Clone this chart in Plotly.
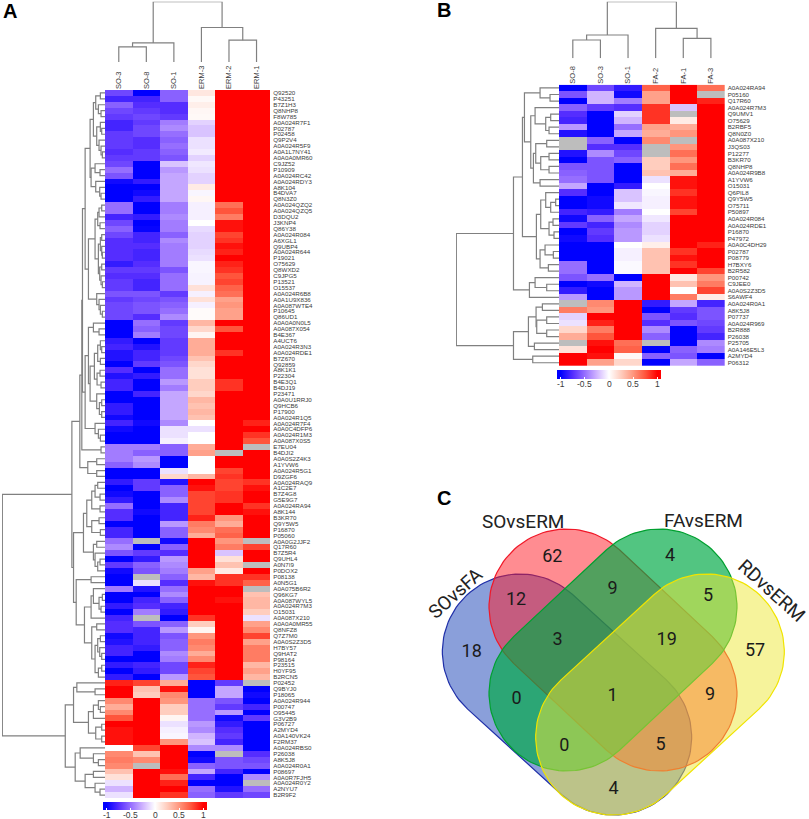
import numpy as np
import plotly.graph_objects as go

nan = float("nan")
W, H = 809, 819

# ---------- Panel A data ----------
a_cols = ["SO-3", "SO-8", "SO-1", "ERM-3", "ERM-2", "ERM-1"]
a_rows = ["Q92520","P43251","B7Z1H3","Q8NHP8","F8W785","A0A024R7F1","P02787","P02458","Q9P2V4","A0A024R5F9",
"A0A1L7NY41","A0A0A0MR60","C9JZ52","P10909","A0A024RC42","A0A024RDY3","A8K104","B4DVA7","Q8N3Z0","A0A024QZQ2",
"A0A024QZQ5","D3DQU2","J3KNP4","Q86Y38","A0A024R084","A6XGL1","Q9UBP4","A0A024R644","P19021","O75629",
"Q8WXD2","C9JPG5","P13521","O15537","A0A024R6B8","A0A1U9X836","A0A087WTE4","P10645","Q86UD1","A0A0A0N0L5",
"A0A087X054","B4E367","A4UCT6","A0A024R3N3","A0A024RDE1","B7Z670","Q92859","A8K1K1","P22304","B4E3Q1",
"B4DJ19","P23471","A0A0U1RRJ0","Q9HCB6","P17900","A0A024R1Q5","A0A024R7F4","A0A0C4DFP6","A0A024R1M3","A0A087X0S5",
"E7EU04","B4DJI2","A0A0S2Z4K3","A1YVW6","A0A024R5G1","D9ZGF6","A0A024RAQ9","A1C2E7","B7Z4G8","G5E9G7",
"A0A024RA94","A8K144","B3KR70","Q9Y5W5","P16870","P05060","A0A0G2JJF2","Q17R60","B7Z5R4","Q9UHL4",
"A0N7I9","P0DOX2","P08138","A0N5G1","A0A075B6R2","Q96KG7","A0A087WYL5","A0A024R7M3","O15031","A0A087X210",
"A0A0A0MR55","Q8NFZ8","Q7Z7M0","A0A0S2Z3D5","H7BY57","Q9HAT2","P98164","P23515","H0YF95","B2RCN5",
"P02452","Q9BYJ0","P18065","A0A024R944","P00747","O95445","G3V2B9","P06727","A2MYD4","A0A140VK24",
"F2RM37","A0A024RBS0","P26038","A8K5J8","A0A024R0A1","P08697","A0A0R7FJH5","A0A024R0Y2","A2NYU7","B2R9F2"]

a_so3 = [-.65,-.8,-.55,-.65,-.7,-.8,-.8,-.7,-.7,-.7,
 -.75,-.7,-.65,-.5,-.6,-.95,-1,-1,-1,-.5,
 -.5,-.8,-.65,-.55,-.65,-.75,-.75,-.75,-.75,-.85,
 -.7,-.75,-.7,-.7,-.6,-.7,-.65,-.65,-.65,-1,
 -1,-1,-.85,-.8,-.9,-.9,-1,-.75,-.9,-.8,
 -.8,-1,-1,-.85,-.85,-.95,-.8,-.95,-1,-1,
 -.45,-.45,-.45,-.55,-1,-1,-.85,-1,-.95,-.85,
 -.5,-.75,-.75,-1,-.8,-.8,-.5,-.4,-.6,-1,
 -.7,-.95,-1,-1,-.45,-1,-1,-.85,-1,-.8,
 -.75,-.75,-.95,-.9,-.8,-.8,-1,-.85,-1,-.85,
 .9,1,1,.55,.4,.55,.75,1,.95,.95,
 .95,0,.55,.6,.55,.3,.15,-.1,-.25,-.1]
a_so8 = [-1,-.8,-.75,-.7,-.65,-.7,-.65,-.65,-.75,-.75,
 -.7,-.7,-1,-1,-1,-.85,-1,-.95,-.85,-1,
 -1,-.85,-1,-.98,-.8,-.8,-.75,-.8,-.8,-.75,
 -.7,-.75,-.8,-.8,-.6,-.65,-.6,-.6,-.75,-.5,
 -.55,-.45,-1,-.9,-.8,-.8,-.7,-1,-.85,-1,
 -1,-.8,-1,-1,-1,-1,-.95,-1,-1,-1,
 -.45,-.55,-.35,-.4,-1,-1,-.7,-.7,-1,-1,
 -1,-.95,-1,-1,-1,-1,nan,-1,-.7,-.85,
 -.55,-.6,nan,-.1,-.9,-1,-.8,-.75,-.45,nan,
 -.6,-.8,-.8,-.8,-.85,-1,-1,-.8,-.85,-1,
 .8,.3,.25,1,1,1,1,1,1,1,
 1,.8,.3,.55,nan,1,1,1,1,1]
a_so1 = [-.55,-.55,-.75,-.75,-.7,-.45,-.4,-.5,-.55,-.5,
 -.55,-.6,-.2,-.35,-.3,-.3,-.3,-.3,-.3,-.45,
 -.45,-.4,-.45,-.45,-.55,-.4,-.45,-.45,-.45,-.45,
 -.6,-.5,-.5,-.5,-.7,-.6,-.55,-.5,-.4,-.7,
 -.65,-.65,-.7,-.7,-.7,-.65,-.6,-.5,-.5,-.35,
 -.45,-.3,-.3,-.3,-.3,-.3,-.4,-.1,-.1,-.05,
 -.55,-.55,-1,-1,-.1,.2,-.9,-.55,-.55,-.4,
 -.8,-.8,-.8,-.35,-.55,-.55,-.95,-.55,-.75,-.35,
 -.4,-.45,-.55,-.75,-.5,-.4,-.55,-.8,-.85,-1,
 -.55,-.35,-.6,-.55,-.55,-.4,-.45,-.65,-.65,-.35,
 .4,.95,.55,.5,.25,.25,.05,-.1,-.05,-.03,
 .5,1,1,1,1,.95,.65,.9,1,.85]
a_erm3 = [.12,.03,.08,.04,.03,-.15,-.2,-.2,-.1,-.1,
 -.07,-.15,-.08,-.1,-.15,-.15,.1,-.03,.04,-.05,
 -.05,-.05,0,-.12,-.15,-.15,-.15,-.12,-.1,-.03,
 -.03,-.04,-.04,.15,-.05,.15,-.05,.02,.02,.35,
 .2,.05,.4,.4,.4,.3,.2,.15,.15,.25,
 .25,.2,.35,.3,.35,.3,0,-.1,0,0,
 .4,.45,0,0,0,.35,1,.95,.8,.8,
 .8,.8,.9,.6,.55,.4,1,1,1,1,
 1,.45,.35,.95,1,1,1,1,1,.85,
 .25,.05,.5,.6,.55,.4,.55,.9,.8,.75,
 -1,-1,-1,-.5,-.5,-.5,-.5,-.35,-.4,-.25,
 -.2,-.4,-1,-.95,-.55,-.3,-.8,-1,-.5,-.55]
a_erm2 = [1,1,1,1,1,1,1,1,1,1,
 1,1,1,1,1,1,1,1,1,.65,
 .75,.6,.95,.95,.8,.85,.95,.9,1,.9,
 .85,.75,.8,.7,.65,.45,.5,.45,.45,1,
 .75,1,1,1,.85,1,1,1,1,.85,
 .85,1,1,1,1,1,1,1,1,1,
 1,nan,1,1,.8,.85,.8,.8,.85,.85,
 1,1,.5,.4,.65,.7,.5,.6,-.2,.15,
 .3,.1,.85,.85,1,1,.95,1,1,1,
 1,1,1,1,1,1,1,1,1,1,
 -.7,-.3,-.3,-.6,-.7,-.35,-.95,-.85,-.75,-.7,
 -.8,-.4,nan,-.6,-.6,-.8,-1,-1,-.9,-.7]
a_erm1 = [1,1,1,1,1,1,1,1,1,1,
 1,1,1,1,1,1,1,1,1,1,
 1,1,1,1,1,1,1,1,1,1,
 1,1,1,1,1,1,1,1,1,1,
 1,1,1,1,1,1,1,1,1,1,
 1,1,1,1,1,1,.9,1,.85,.75,
 nan,1,1,1,1,1,.85,.95,1,1,
 .85,.95,1,1,1,1,nan,.8,1,1,
 nan,1,.85,.7,nan,.3,.35,.35,.25,-.1,
 .45,.55,.8,.45,.6,.6,.6,.35,.45,.35,
 nan,-1,-.95,-1,-.8,-1,-.7,-1,-1,-1,
 -1,-1,-.75,-.65,-.6,-1,-.4,nan,-.5,-.65]

# ---------- Panel B data ----------
b_cols = ["SO-8", "SO-3", "SO-1", "FA-2", "FA-1", "FA-3"]
b_rows = ["A0A024RA94","P05160","Q17R60","A0A024R7M3","Q9UMV1","O75629","B2RBF5","Q8N0Z0","A0A087X210","J3QS03",
"P12277","B3KR70","Q8NHP8","A0A024R9B8","A1YVW6","O15031","Q6PIL8","Q9Y5W5","O75711","P50897",
"A0A024R084","A0A024RDE1","P16870","P47972","A0A0C4DH29","P02787","P08779","H7BXY6","B2R582","P00742",
"C9JEE0","A0A0S2Z3D5","S6AWF4","A0A024R0A1","A8K5J8","P07737","A0A024R969","B2R888","P26038","P25705",
"A0A146E5L3","A2MYD4","P06312"]
b_so8 = [-1,-.6,-1,-.55,-.75,-.8,-.35,-.9,nan,nan,-.9,-1,-.6,-.55,-.5,-.3,-.75,-1,-1,-.8,-.95,-.7,-1,-.95,-1,-1,-1,-.5,-.5,-.6,-1,-.85,-.35,nan,.6,-.15,-.1,.2,.4,nan,.15,1,1]
b_so3 = [-.65,-.25,-.25,-.7,-1,-1,-1,-1,-.55,-.75,-.4,-.6,-.6,-.6,-.6,-1,-1,-.95,-.95,-.85,-.55,-.8,-.7,-.75,-1,-1,-1,-1,-1,-.5,-.95,-1,-1,.55,.5,1,.9,.6,.75,.95,1,.95,.45]
b_so1 = [-.85,-.95,-.45,-.75,-.15,-.25,-.5,-.3,-1,-.75,-.65,-.55,-1,-1,-1,-.85,-.2,-.2,-.08,-.45,-.3,-.4,-.35,-.35,0,-.05,-.05,-.02,-.02,-1,-.25,-.35,-.35,1,1,1,1,1,1,.65,.7,.03,.2]
b_fa2 = [.7,.45,.45,.85,.85,.85,.45,.4,.55,nan,nan,.25,.25,.3,-.1,0,-.03,-.05,-.05,0,-.08,-.15,-.15,-.1,.08,.3,.3,.3,.3,1,1,1,1,-.85,-1,-.6,-.75,-.4,-.55,nan,-1,-.55,-1]
b_fa1 = [1,1,1,-.2,nan,.1,.4,.5,nan,.5,.65,.5,.65,.4,.95,.95,.85,.95,.95,.8,1,1,1,1,1,.85,.95,.85,1,.12,.3,0,.6,-.3,-.7,-.75,-.6,-1,-1,-1,-.55,-.6,-.3]
b_fa3 = [.65,nan,.9,1,1,1,1,1,1,1,1,1,1,1,1,1,1,1,1,1,1,1,1,1,.9,1,1,1,.8,.5,.6,.8,.1,-.8,-.6,-.6,-.65,-.7,-.8,-.4,-.45,-1,-.55]

cb_tick_vals = [-1, -.5, 0, .5, 1]
cb_tick_text = ["-1", "-0.5", "0", "0.5", "1"]

# ---------- Clustering trees: (merge height, left, right), leaves are row/column indices ----------
r0_4 = (28,(14,0,1),(20,2,(12,3,4)))
r5_11 = (25,(14,5,(10,6,7)),(18,8,(12,9,(8,10,11))))
r12_18 = (42,(30,12,(15,13,14)),(28,15,(16,16,(12,17,18))))
r0_18 = (45,(35,r0_4,r5_11),r12_18)
r19_23 = (22,(18,(10,19,20),21),(15,22,23))
r24_28 = (14,(10,24,25),(10,26,(8,27,28)))
r29_33 = (16,(10,29,30),(12,31,(8,32,33)))
r34_38 = (25,34,(18,35,(14,36,(8,37,38))))
r19_38 = (50,(30,r19_23,(20,r24_28,r29_33)),r34_38)
r39_41 = (35,39,(18,40,41))
r42_46 = (22,(14,42,(10,43,44)),(14,45,46))
r47_50 = (24,(15,47,48),(12,49,50))
r51_55 = (25,51,(17,(10,52,53),(10,54,55)))
r56_59 = (30,56,(20,57,(14,58,59)))
r39_59 = (60,(50,r39_41,(45,(32,r42_46,r47_50),r51_55)),r56_59)
r0_59 = (68,(60,r0_18,r19_38),r39_59)
r62_65 = (52,(25,62,63),(25,64,65))
r0_65 = (76,(70,r0_59,(12,60,61)),r62_65)
r66_75 = (55,(40,(30,(22,66,67),(15,68,69)),(15,70,71)),(40,(18,72,73),(14,74,75)))
r76_81 = (35,(25,76,77),(30,78,(22,(15,79,80),81)))
r84_89 = (42,(35,84,(18,(8,85,86),(12,87,88))),89)
r90_99 = (40,(25,90,91),(30,(22,(14,92,93),(16,94,(10,95,96))),(20,(10,97,98),99)))
r82_99 = (87,(42,82,83),(62,r84_89,r90_99))
r66_99 = (95,(65,r66_75,r76_81),r82_99)
r100_110 = (95,(85,100,(30,101,102)),(50,(35,(20,103,(14,104,105)),106),(28,(10,107,108),(10,109,110))))
r111_119 = (90,(75,111,(35,112,(20,113,114))),(60,(35,115,116),(30,117,(15,118,119))))
a_row_tree = (310,(100,r0_65,r66_99),(120,r100_110,r111_119))
a_col_tree = (180,(57,(45,0,1),2),(103,3,(65,4,5)))

b0_2 = (57,0,(27,1,2))
b3_7 = (72,3,(40,(25,4,5),(30,6,7)))
b8_15 = (77,(70,(37,8,9),(55,(30,10,11),(30,12,13))),(57,14,15))
b16_23 = (55,(40,16,(25,(10,17,18),19)),(30,(18,20,21),(15,22,23)))
b24_28 = (57,(42,24,(17,25,26)),(32,27,28))
b0_28 = (110,(104,b0_2,(85,b3_7,b8_15)),(68,b16_23,b24_28))
b29_32 = (89,(72,29,(37,30,31)),32)
b33_40 = (92,(69,(50,33,34),(67,(37,35,36),(37,37,38))),(74,39,40))
b_row_tree = (309,(137,b0_28,b29_32),(137,b33_40,(79,41,42)))
b_col_tree = (170,(70,(55,0,1),2),(90,3,(60,4,5)))

# ---------- Panel C data ----------
set_names = ["SOvsFA", "SOvsERM", "FAvsERM", "RDvsERM"]
set_fills = ["rgba(21,63,181,0.5)", "rgba(255,25,35,0.5)", "rgba(0,170,70,0.68)", "rgba(237,231,55,0.5)"]
set_lines = ["#1f2fa8", "#f01828", "#00a030", "#f0e400"]
set_ends = [((300,515),(582,772)), ((440,380),(718,640)), ((718,380),(440,640)), ((860,515),(580,772))]
set_radius = 233
region_counts = [62,4,12,9,5,18,3,19,57,0,1,9,0,5,4]
region_x = [397,750,288,578,864,155,413,740,1005,290,578,870,433,722,581]
region_y = [232,228,360,328,350,517,480,482,513,657,650,645,800,795,928]

for c in (a_so3,a_so8,a_so1,a_erm3,a_erm2,a_erm1):
    assert len(c) == len(a_rows) == 120, len(c)
for c in (b_so8,b_so3,b_so1,b_fa2,b_fa1,b_fa3):
    assert len(c) == len(b_rows) == 43, len(c)

# ---------- helpers ----------
CB = 1.075
stops = [(-1,"rgb(0,0,255)"),(-.75,"rgb(85,45,255)"),(-.5,"rgb(150,110,255)"),(-.25,"rgb(208,180,255)"),
         (0,"rgb(255,255,255)"),(.25,"rgb(255,205,190)"),(.5,"rgb(255,150,125)"),(.75,"rgb(255,85,60)"),(1,"rgb(255,0,0)")]
cscale = [[0,stops[0][1]]] + [[(v+CB)/(2*CB),c] for v,c in stops] + [[1,stops[-1][1]]]
GREY = "#bdbdbd"
LINE = "#808080"
TXT = "#3a3a3a"
FONT = "Liberation Sans"

def dx(a, b): return [a/W, b/W]
def dy(a, b): return [1-b/H, 1-a/H]

def walk(node, xs, hs):
    if not isinstance(node, tuple):
        return node, 0.0
    h, l, r = node
    pl, hl = walk(l, xs, hs)
    pr, hr = walk(r, xs, hs)
    xs += [pl, pl, pr, pr, None]
    hs += [hl, h, h, hr, None]
    return (pl+pr)/2, h

def dendro(tree):
    a, b = [], []
    walk(tree, a, b)
    return a, b

def stadium(p, q, r):
    p, q = np.array(p, float), np.array(q, float)
    ang = np.arctan2(*(q-p)[::-1])
    t1 = np.linspace(ang+np.pi/2, ang+3*np.pi/2, 60)
    t2 = np.linspace(ang-np.pi/2, ang+np.pi/2, 60)
    xs = np.r_[p[0]+r*np.cos(t1), q[0]+r*np.cos(t2), p[0]+r*np.cos(t1[0])]
    ys = np.r_[p[1]+r*np.sin(t1), q[1]+r*np.sin(t2), p[1]+r*np.sin(t1[0])]
    return xs, ys

annots = []
def note(text, px, py, size, weight=None, angle=0, font=FONT, color="#000"):
    t = f"<b>{text}</b>" if weight else text
    annots.append(dict(text=t, x=px/W, y=1-py/H, xref="paper", yref="paper", showarrow=False, xanchor="center", yanchor="middle",
                       textangle=angle, font=dict(family=font, size=size, color=color)))

fig = go.Figure()

def panel(cols, rows, columns, row_tree, col_tree, ax, heat_x, heat_y, rd_x, cd_y, cb_x, cb_y, cb_th, cb_label_y, row_font, col_font):
    n = len(rows)
    sx = "" if ax == 1 else str(ax)
    xh, yh, xr, yr, xc, yc = f"x{sx}", f"y{sx}", f"x{ax+1}", f"y{ax+1}", f"x{ax+2}", f"y{ax+2}"
    z = np.array(columns, float).T
    fig.add_trace(go.Heatmap(z=z, x=list(range(6)), y=list(range(n)), xaxis=xh, yaxis=yh, colorscale=cscale,
        zmin=-CB, zmax=CB, xgap=0, ygap=0, hoverongaps=False,
        colorbar=dict(orientation="h", x=cb_x/W, xanchor="left", y=1-cb_y/H, yanchor="top", lenmode="pixels",
            len=104, thickness=cb_th, thicknessmode="pixels", xpad=0, ypad=0,
            outlinewidth=0, tickmode="array", tickvals=cb_tick_vals, showticklabels=False,
            ticks="inside", ticklen=2, tickcolor="white")))
    for v, t in zip(cb_tick_vals, cb_tick_text):
        note(t, cb_x + (v+CB)/(2*CB)*104, cb_label_y, 8.5, color=TXT)
    miss = np.where(np.isnan(z), 1.0, np.nan)
    fig.add_trace(go.Heatmap(z=miss, x=list(range(6)), y=list(range(n)), xaxis=xh, yaxis=yh,
        colorscale=[[0,GREY],[1,GREY]], showscale=False, zmin=0, zmax=1, hoverinfo="skip"))
    a, b = dendro(row_tree)
    fig.add_trace(go.Scatter(x=b, y=a, xaxis=xr, yaxis=yr, mode="lines", line=dict(color=LINE, width=1.2), hoverinfo="skip", showlegend=False))
    a, b = dendro(col_tree)
    fig.add_trace(go.Scatter(x=a, y=b, xaxis=xc, yaxis=yc, mode="lines", line=dict(color=LINE, width=1.2), hoverinfo="skip", showlegend=False))
    off = dict(visible=False, showgrid=False, zeroline=False, fixedrange=True)
    layout = {}
    layout[f"xaxis{sx}"] = dict(domain=dx(*heat_x), range=[-.5,5.5], anchor=yh, side="top", tickmode="array",
        tickvals=list(range(6)), ticktext=cols, tickangle=-90, ticks="", showgrid=False, zeroline=False, showline=False,
        tickfont=dict(family=FONT, size=col_font, color=TXT), fixedrange=True)
    layout[f"yaxis{sx}"] = dict(domain=dy(*heat_y), range=[n-.5,-.5], anchor=xh, side="right", tickmode="array",
        tickvals=list(range(n)), ticktext=rows, ticks="", showgrid=False, zeroline=False, showline=False,
        ticklabelstandoff=2, tickfont=dict(family=FONT, size=row_font, color=TXT), fixedrange=True)
    layout[f"xaxis{ax+1}"] = dict(domain=dx(*rd_x), range=[row_tree[0]+1, 0], anchor=yr, **off)
    layout[f"yaxis{ax+1}"] = dict(domain=dy(*heat_y), range=[n-.5,-.5], anchor=xr, **off)
    layout[f"xaxis{ax+2}"] = dict(domain=dx(*heat_x), range=[-.5,5.5], anchor=yc, **off)
    layout[f"yaxis{ax+2}"] = dict(domain=dy(*cd_y), range=[0,col_tree[0]], anchor=xc, **off)
    fig.update_layout(**layout)

panel(a_cols, a_rows, [a_so3,a_so8,a_so1,a_erm3,a_erm2,a_erm1], a_row_tree, a_col_tree, 1,
      (105,270.3), (90,798), (2,105), (1.7,62), 103, 802, 7.5, 814.5, 6.2, 7.5)
panel(b_cols, b_rows, [b_so8,b_so3,b_so1,b_fa2,b_fa1,b_fa3], b_row_tree, b_col_tree, 4,
      (559,724.7), (84.7,366), (456,559), (1.7,58.3), 557, 370, 8.5, 384, 6.2, 7.5)

# Venn
for nm, ends, f, l in zip(set_names, set_ends, set_fills, set_lines):
    xs, ys = stadium(ends[0], ends[1], set_radius)
    fig.add_trace(go.Scatter(x=xs, y=ys, xaxis="x7", yaxis="y7", mode="lines", fill="toself", fillcolor=f,
                             line=dict(color=l, width=1.2), name=nm, hoverinfo="name", showlegend=False))
VF = "Roboto"
fig.add_trace(go.Scatter(x=region_x, y=region_y, xaxis="x7", yaxis="y7", mode="text", text=[str(v) for v in region_counts],
                         textposition="middle center", textfont=dict(family=VF, size=18, color="#1a1a1a"), hoverinfo="skip", showlegend=False))
off = dict(visible=False, showgrid=False, zeroline=False, fixedrange=True)
fig.update_layout(xaxis7=dict(domain=dx(420,809), range=[0,1167], anchor="y7", **off),
                  yaxis7=dict(domain=dy(480,819), range=[1017,0], anchor="x7", **off))

note("A", 9.5, 11.5, 20, True)
note("B", 444, 10.5, 20, True)
note("C", 443.5, 498.5, 20, True)
note(set_names[1], 420+310/3, 480+125/3, 19, font=VF, color="#222")
note(set_names[2], 420+850/3, 480+122/3, 19, font=VF, color="#222")
note(set_names[0], 420+105/3, 480+340/3, 19, angle=-42, font=VF, color="#222")
note(set_names[3], 420+1055/3, 480+330/3, 19, angle=42, font=VF, color="#222")

fig.update_layout(width=W, height=H, margin=dict(l=0,r=0,t=0,b=0,autoexpand=False), paper_bgcolor="white",
                  plot_bgcolor="rgba(0,0,0,0)", showlegend=False, annotations=annots)
fig.write_html("out.html", config={"displayModeBar": False},
               post_script="document.body.style.margin='0';document.documentElement.style.overflow='hidden';")
